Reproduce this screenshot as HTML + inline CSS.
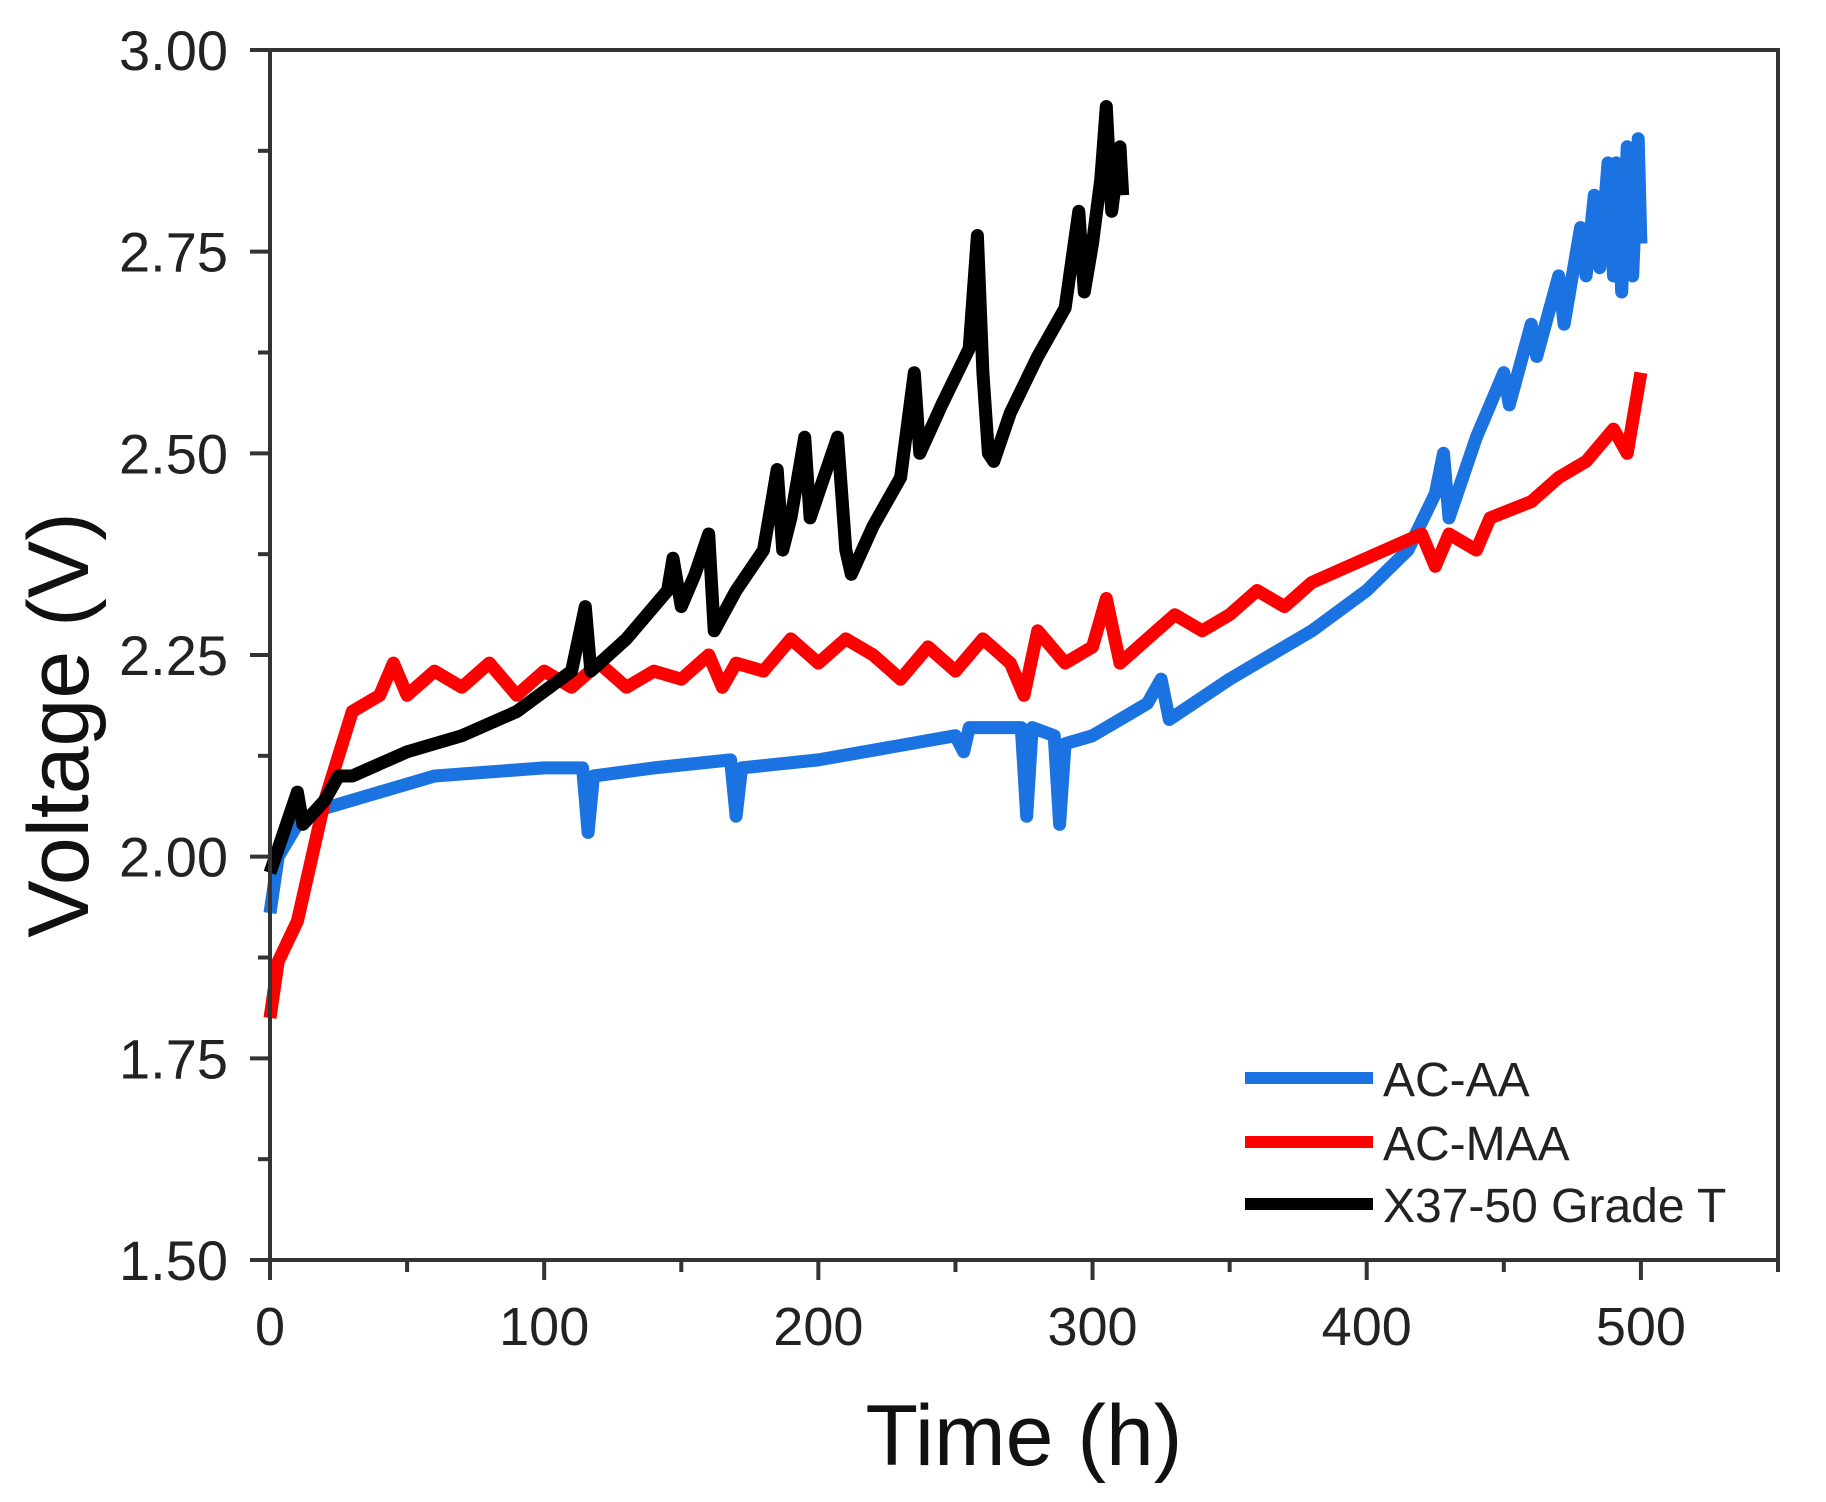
<!DOCTYPE html>
<html><head><meta charset="utf-8"><style>
html,body{margin:0;padding:0;background:#fff;}
svg{display:block;font-family:"Liberation Sans",Arial,sans-serif;}
</style></head><body>
<svg id="chart" width="1826" height="1502" viewBox="0 0 1826 1502">
<g id="series"></g>
<g id="axes"></g>
<text x="1024" y="1465" font-size="86" text-anchor="middle" fill="#111">Time (h)</text>
<text transform="translate(88,725) rotate(-90)" font-size="86" text-anchor="middle" fill="#111">Voltage (V)</text>
<g>
<line x1="1245" y1="1078" x2="1373" y2="1078" stroke="#1a73e0" stroke-width="12"/>
<text x="1383" y="1096" font-size="48" fill="#222">AC-AA</text>
<line x1="1245" y1="1142" x2="1373" y2="1142" stroke="#f00" stroke-width="12"/>
<text x="1383" y="1160" font-size="48" fill="#222">AC-MAA</text>
<line x1="1245" y1="1204" x2="1373" y2="1204" stroke="#000" stroke-width="12"/>
<text x="1383" y="1222" font-size="48" fill="#222">X37-50 Grade T</text>
</g>
</svg>
<script>
const xTicks=[0,100,200,300,400,500];
const yTicks=[1.50,1.75,2.00,2.25,2.50,2.75,3.00];
const acaaT=[0,3,10,20,40,60,100,114,116,118,140,168,170,172,200,250,253,255,274,276,278,286,288,290,300,320,325,328,350,380,400,415,425,428,430,440,450,452,460,462,470,472,478,480,483,485,488,490,491,493,495,497,499,500];
const acaaV=[1.93,2.00,2.04,2.06,2.08,2.10,2.11,2.11,2.03,2.10,2.11,2.12,2.05,2.11,2.12,2.15,2.13,2.16,2.16,2.05,2.16,2.15,2.04,2.14,2.15,2.19,2.22,2.17,2.22,2.28,2.33,2.38,2.45,2.50,2.42,2.52,2.60,2.56,2.66,2.62,2.72,2.66,2.78,2.72,2.82,2.73,2.86,2.72,2.86,2.70,2.88,2.72,2.89,2.76];
const acmaaT=[0,3,10,20,30,40,45,50,60,70,80,90,100,110,120,130,140,150,160,165,170,180,190,200,210,220,230,240,250,260,270,275,280,290,300,305,310,320,330,340,350,360,370,380,400,420,425,430,440,445,460,470,480,490,495,500];
const acmaaV=[1.80,1.87,1.92,2.07,2.18,2.20,2.24,2.20,2.23,2.21,2.24,2.20,2.23,2.21,2.24,2.21,2.23,2.22,2.25,2.21,2.24,2.23,2.27,2.24,2.27,2.25,2.22,2.26,2.23,2.27,2.24,2.20,2.28,2.24,2.26,2.32,2.24,2.27,2.30,2.28,2.30,2.33,2.31,2.34,2.37,2.40,2.36,2.40,2.38,2.42,2.44,2.47,2.49,2.53,2.50,2.60];
const x37T=[0,5,10,12,20,25,30,50,70,90,110,115,117,130,145,147,150,155,160,162,170,180,185,187,190,195,197,205,207,210,212,220,230,235,237,245,255,258,260,262,264,270,280,290,295,297,300,303,305,307,310,311];
const x37V=[1.98,2.03,2.08,2.04,2.07,2.10,2.10,2.13,2.15,2.18,2.23,2.31,2.23,2.27,2.33,2.37,2.31,2.35,2.40,2.28,2.33,2.38,2.48,2.38,2.42,2.52,2.42,2.50,2.52,2.38,2.35,2.41,2.47,2.60,2.50,2.56,2.63,2.77,2.60,2.50,2.49,2.55,2.62,2.68,2.80,2.70,2.76,2.84,2.93,2.80,2.88,2.82];
const X0=270,X1=1778,Y0=1260,Y1=50;
const xs=t=>X0+t*(X1-X0)/550;
const ys=v=>Y0-(v-1.5)*(Y0-Y1)/1.5;
const NS="http://www.w3.org/2000/svg";
const sg=document.getElementById('series'), ag=document.getElementById('axes');
function mk(tag,attrs,parent){const e=document.createElementNS(NS,tag);for(const k in attrs)e.setAttribute(k,attrs[k]);parent.appendChild(e);return e;}
function line(T,V,color,name){
  const d=T.map((t,i)=>(i?'L':'M')+xs(t).toFixed(1)+','+ys(V[i]).toFixed(1)).join('');
  const p=mk('path',{d:d,fill:'none',stroke:color,'stroke-width':13,'stroke-linejoin':'round'},sg);
  
  
}
line(acaaT,acaaV,'#1a73e0','series-ac-aa');
line(acmaaT,acmaaV,'#f00','series-ac-maa');
line(x37T,x37V,'#000','series-x37-50-grade-t');
const frame=mk('rect',{x:X0,y:Y1,width:X1-X0,height:Y0-Y1,fill:'none',stroke:'#333','stroke-width':4},ag);


xTicks.forEach(t=>{
  const tk=mk('line',{x1:xs(t),y1:Y0,x2:xs(t),y2:Y0+20,stroke:'#333','stroke-width':4},ag);
  
  
  const tx=mk('text',{x:xs(t),y:1345,'font-size':54,'text-anchor':'middle',fill:'#222'},ag);
  tx.textContent=t;
  
  
});
for(let t=50;t<=550;t+=100){
  const m=mk('line',{x1:xs(t),y1:Y0,x2:xs(t),y2:Y0+12,stroke:'#333','stroke-width':4},ag);
  
  
}
yTicks.forEach(v=>{
  const tk=mk('line',{x1:X0-20,y1:ys(v),x2:X0,y2:ys(v),stroke:'#333','stroke-width':4},ag);
  
  
  const tx=mk('text',{x:228,y:ys(v)+20,'font-size':56,'text-anchor':'end',fill:'#222'},ag);
  tx.textContent=v.toFixed(2);
  
  
});
for(let v=1.625;v<3;v+=0.25){
  const m=mk('line',{x1:X0-12,y1:ys(v),x2:X0,y2:ys(v),stroke:'#333','stroke-width':4},ag);
  
  
}
</script>
</body></html>
